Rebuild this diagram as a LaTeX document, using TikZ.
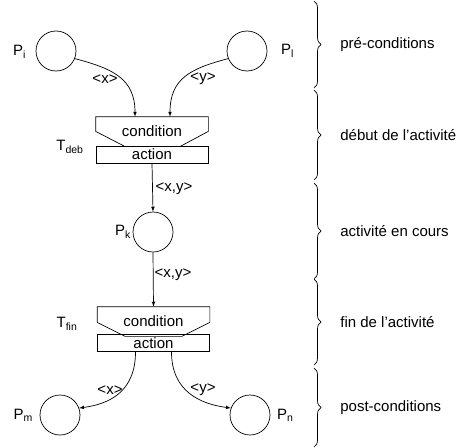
\documentclass[tikz,border=0pt]{standalone}
\usepackage{fontspec}
\setmainfont{Liberation Sans}
\usetikzlibrary{decorations.pathreplacing}
\tikzset{
  place/.style={draw, circle, minimum size=40pt, inner sep=0pt},
  cond/.style={minimum width=112pt, minimum height=29pt, inner sep=0pt},
  act/.style={draw, minimum width=112pt, minimum height=17pt, inner sep=0pt},
  arc/.style={->, >=latex},
  phase/.style={decorate, decoration={brace, amplitude=7pt}},
  phasetext/.style={right=26pt, inner sep=0pt}
}
\begin{document}
\begin{tikzpicture}[x=1pt, y=-1pt, line width=0.7pt, font=\fontsize{15}{17}\selectfont]
\useasboundingbox (0,0) rectangle (468,447);
% places
\node[place, label={[xshift=-6pt, yshift=-1pt]left:P\textsubscript{i}}] (pi) at (56,51) {};
\node[place, label={[xshift=10pt]right:P\textsubscript{l}}] (pl) at (247,51) {};
\node[place, label={[xshift=2pt]left:P\textsubscript{k}}] (pk) at (153,232) {};
\node[place, label={[xshift=-3pt]left:P\textsubscript{m}}] (pm) at (60,415) {};
\node[place, label={[xshift=3pt]right:P\textsubscript{n}}] (pn) at (250,415) {};
% transition debut
\node[cond] (cdeb) at (152,131.5) {condition};
\node[act] (adeb) at (152,154.5) {action};
\draw (cdeb.north west) -- (cdeb.north east) -- ([yshift=15pt]cdeb.south east)
  -- ([xshift=-28pt]cdeb.south east) -- ([xshift=29pt]cdeb.south west)
  -- ([yshift=15pt]cdeb.south west) -- cycle;
\node (tdeb) at (70,147) {T\textsubscript{deb}};
% transition fin
\node[cond] (cfin) at (153.5,321.5) {condition};
\node[act] (afin) at (153.5,343) {action};
\draw (cfin.north west) -- (cfin.north east) -- ([yshift=14pt]cfin.south east)
  -- ([xshift=-28pt]cfin.south east) -- ([xshift=28pt]cfin.south west)
  -- ([yshift=14pt]cfin.south west) -- cycle;
\node (tfin) at (67,324) {T\textsubscript{fin}};
% arcs
\draw[arc] (pi.-22) .. controls +(38,10) and +(0,-38) .. ([xshift=-17pt]cdeb.north);
\draw[arc] (pl.-158) .. controls +(-38,10) and +(0,-38) .. ([xshift=18pt]cdeb.north);
\draw[arc] (adeb.south) -- (pk.north);
\draw[arc] (pk.south) -- (cfin.north);
\draw[arc] ([xshift=-18pt]afin.south) .. controls +(0,40) and +(30,-4) .. (pm.20);
\draw[arc] ([xshift=18pt]afin.south) .. controls +(0,40) and +(-30,-4) .. (pn.160);
% arc labels
\node (ax) at (105,79) {<x>};
\node (ay) at (203,79) {<y>};
\node (axy1) at (174,189) {<x,y>};
\node (axy2) at (173,275) {<x,y>};
\node (bx) at (110,390) {<x>};
\node (by) at (203,390) {<y>};
% phases
\draw[phase] (314,1) -- (314,88) node[midway, phasetext] (pre) {pré-conditions};
\draw[phase] (314,90) -- (314,180) node[midway, phasetext] (deb) {début de l'activité};
\draw[phase] (314,183) -- (314,279) node[midway, phasetext] (enc) {activité en cours};
\draw[phase] (314,279) -- (314,365) node[midway, phasetext] (fin) {fin de l'activité};
\draw[phase] (314,368) -- (314,447) node[midway, phasetext] (post) {post-conditions};
\end{tikzpicture}
\end{document}
